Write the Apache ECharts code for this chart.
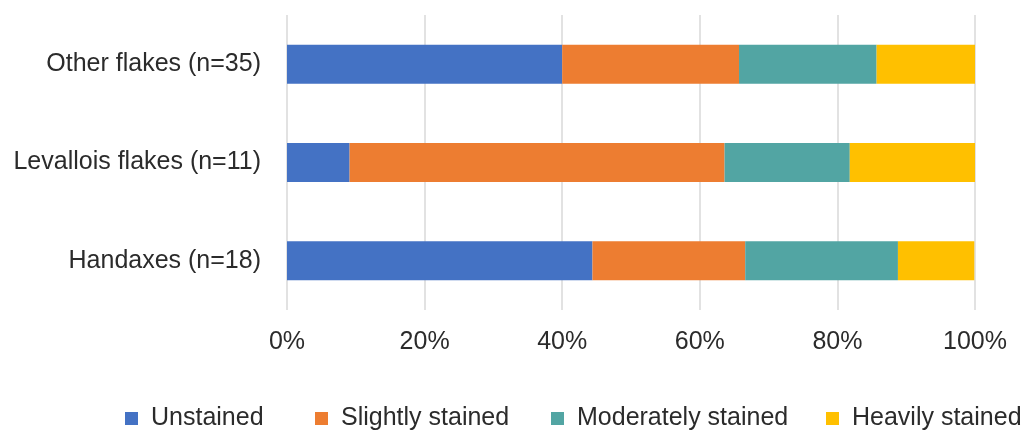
<!DOCTYPE html>
<html>
<head>
<meta charset="utf-8">
<script src="https://cdn.jsdelivr.net/npm/echarts@6/dist/echarts.min.js"></script>
<style>
	html,body{margin:0;padding:0;background:#fff;}
	#main{width:1029px;height:431px;}
</style>
</head>
<body>
<div id="main"></div>
<script>
// categories bottom to top, as the y axis draws them
var categories = ['Handaxes (n=18)', 'Levallois flakes (n=11)', 'Other flakes (n=35)'];
var unstained = [44.4, 9.1, 40.0];
var slightly = [22.2, 54.5, 25.7];
var moderately = [22.2, 18.2, 20.0];
var heavily = [11.1, 18.2, 14.3];
var seriesNames = ['Unstained', 'Slightly stained', 'Moderately stained', 'Heavily stained'];
var colors = ['#4472C4', '#ED7D31', '#52A5A3', '#FFC000'];

var font = 'Liberation Sans, Arial, sans-serif';
var textColor = '#2b2b2b';
var legendLeft = [125, 315, 551, 826];
var chart = echarts.init(document.getElementById('main'));

function bar(i, d){
	return {
		name: seriesNames[i],
		type: 'bar',
		stack: 'all',
		barWidth: 39,
		data: d,
		itemStyle: {color: colors[i]}
	};
}

// one legend per item, Excel spaces them unevenly
var legends = seriesNames.map(function(n, i){
	return {
		left: legendLeft[i],
		top: 406,
		padding: 0,
		itemWidth: 13,
		itemHeight: 13,
		icon: 'rect',
		textStyle: {fontFamily: font, fontSize: 25, color: textColor, padding: [0, 0, 0, 8]},
		data: [n]
	};
});

chart.setOption({
	animation: false,
	color: colors,
	grid: {left: 287, right: 54, top: 15, bottom: 121},
	legend: legends,
	xAxis: {
		type: 'value',
		min: 0,
		max: 100,
		interval: 20,
		axisLine: {show: false},
		axisTick: {show: false},
		splitLine: {lineStyle: {color: '#d9d9d9', width: 1.5}},
		axisLabel: {
			formatter: '{value}%',
			margin: 20,
			fontFamily: font, fontSize: 25, color: textColor
		}
	},
	yAxis: {
		type: 'category',
		data: categories,
		axisLine: {show: false},
		axisTick: {show: false},
		axisLabel: {margin: 26, fontFamily: font, fontSize: 25, color: textColor}
	},
	series: [bar(0, unstained), bar(1, slightly), bar(2, moderately), bar(3, heavily)]
});
</script>
</body>
</html>
